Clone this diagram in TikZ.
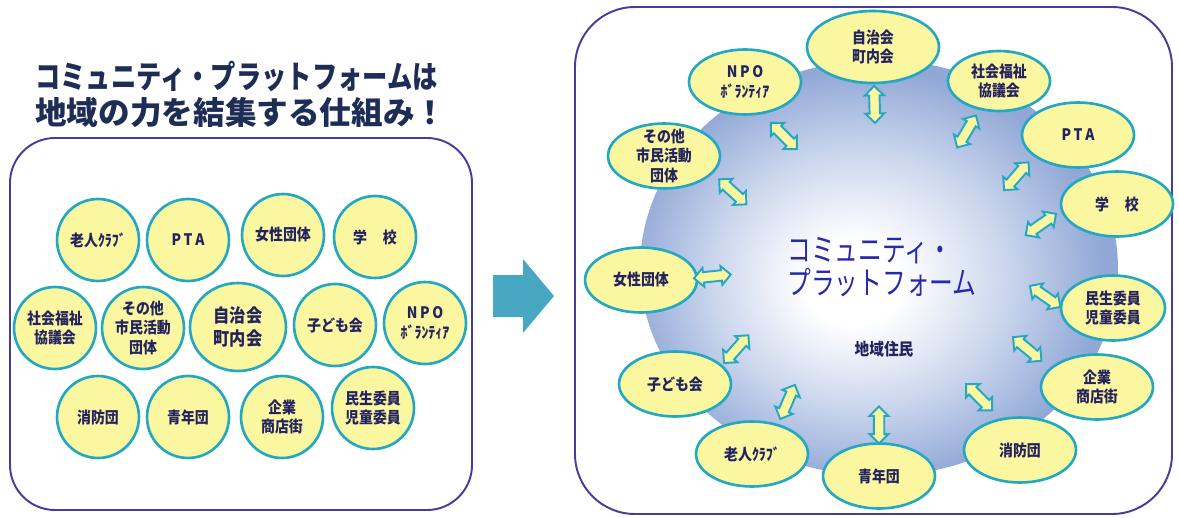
\documentclass[tikz,border=0pt]{standalone}
\usepackage{fontspec}
\usepackage{graphicx}
\setmainfont{Noto Sans CJK JP}
\newfontfamily\narrowjp[FakeStretch=0.88]{Noto Sans CJK JP}
\newfontfamily\slimjp[FakeStretch=0.75]{Noto Sans CJK JP}
\usetikzlibrary{shapes.geometric,shapes.arrows}

\definecolor{panelline}{RGB}{70,60,155}
\definecolor{orgfill}{RGB}{251,246,160}
\definecolor{orgline}{RGB}{35,168,196}
\definecolor{orgtext}{RGB}{35,35,95}
\definecolor{titletext}{RGB}{30,45,85}
\definecolor{arrowblue}{RGB}{72,168,196}
\definecolor{hubtext}{RGB}{40,40,170}
\definecolor{hubblue}{RGB}{145,168,214}
\definecolor{hubmid}{RGB}{205,216,238}

\pgfdeclareradialshading{hubshade}{\pgfpoint{-3bp}{-2bp}}{color(0bp)=(white); color(5bp)=(white); color(15bp)=(hubmid); color(25bp)=(hubblue); color(50bp)=(hubblue)}

\begin{document}
\begin{tikzpicture}[x=0.02cm, y=-0.02cm,
 panel/.style={draw=panelline, line width=1.1pt, rounded corners=#1},
 title/.style={font=\bfseries\fontsize{18}{20}\selectfont, text=titletext, inner sep=0pt, anchor=west},
 org/.style={ellipse, draw=orgline, line width=1.5pt, fill=orgfill, text=orgtext,
   inner xsep=0pt, inner ysep=-6pt, align=center, font=\narrowjp\bfseries\fontsize{9}{11}\selectfont},
 grp/.style={org, minimum size=1.64cm},
 member/.style={org, minimum width=2.24cm, minimum height=1.3cm},
 dblarrow/.style={double arrow, draw=orgline, line width=1.1pt, fill=orgfill,
   inner xsep=0pt, inner ysep=0.085cm, minimum height=0.74cm, double arrow head extend=0.085cm}
]
\useasboundingbox (0,0) rectangle (1179,517);

% title
\node[title] (title1) at (35,76) {\scalebox{0.8}[1]{コミュニティ・プラットフォームは}};
\node[title] (title2) at (35,113) {地域の力を結集する仕組み！};

% left panel: the groups apart
\draw[panel=0.9cm] (10,138) rectangle (472,510);
\node[grp] (l-roujin) at (98,240) {老人ｸﾗﾌﾞ};
\node[grp] (l-pta) at (188,240) {P\,T\,A};
\node[grp] (l-josei) at (283,235) {女性団体};
\node[grp] (l-gakkou) at (375,237) {学\quad 校};
\node[grp] (l-shakyo) at (55,328) {社会福祉\\協議会};
\node[grp] (l-sonota) at (143,328) {その他\\市民活動\\団体};
\node[org, minimum width=1.92cm, minimum height=1.76cm,
  font=\narrowjp\bfseries\fontsize{10.5}{13}\selectfont] (l-jichi) at (238,327) {自治会\\町内会};
\node[grp] (l-kodomo) at (335,325) {子ども会};
\node[grp] (l-npo) at (425,323) {N\,P\,O\\ﾎﾞﾗﾝﾃｨｱ};
\node[grp] (l-shoubou) at (98,417) {消防団};
\node[grp] (l-seinen) at (188,417) {青年団};
\node[grp] (l-kigyou) at (282,417) {企業\\商店街};
\node[grp] (l-minsei) at (373,408) {民生委員\\児童委員};

% big arrow
\fill[arrowblue] (493,275) -- (523,275) -- (523,259) -- (554,296) -- (523,333)
  -- (523,317) -- (493,317) -- cycle;

% right panel: the platform
\draw[panel=1.2cm] (575,7) rectangle (1172,514);
\node[ellipse, shade, shading=hubshade, inner sep=0pt,
  minimum width=9.56cm, minimum height=8.32cm] (hub) at (879,268) {};
\node[font=\slimjp\fontsize{18}{18.7}\selectfont, text=hubtext, align=left] (hubname) at (882,267)
  {コミュニティ・\\プラットフォーム};
\node[font=\narrowjp\bfseries\fontsize{9.5}{11}\selectfont, text=orgtext] (residents) at (884,349) {地域住民};

\node[member, minimum width=2.64cm, minimum height=1.44cm] (jichi) at (873,47) {自治会\\町内会};
\node[member] (npo) at (745,82) {N\,P\,O\\ﾎﾞﾗﾝﾃｨｱ};
\node[member, minimum width=2.04cm, minimum height=1.2cm] (shakyo) at (999,81) {社会福祉\\協議会};
\node[member] (sonota) at (664,156) {その他\\市民活動\\団体};
\node[member] (pta) at (1078,135) {P\,T\,A};
\node[member] (gakkou) at (1117,204) {学\quad 校};
\node[member] (josei) at (641,280) {女性団体};
\node[member, minimum width=2.08cm] (minsei) at (1113,308) {民生委員\\児童委員};
\node[member] (kodomo) at (675,384) {子ども会};
\node[member] (kigyou) at (1097,387) {企業\\商店街};
\node[member] (roujin) at (752,454) {老人ｸﾗﾌﾞ};
\node[member] (seinen) at (879,476) {青年団};
\node[member] (shoubou) at (1020,450) {消防団};

% links to the hub (pos along the line, extra turn)
\foreach \n/\p/\r in {jichi/.26/0, npo/.29/9, shakyo/.27/2, sonota/.32/-15, pta/.31/15,
  gakkou/.32/20, josei/.30/3, minsei/.29/-25, kodomo/.30/19, kigyou/.32/-11,
  roujin/.28/11, seinen/.245/0, shoubou/.29/7}
  \path (\n.center) -- (hub.center) node[dblarrow, sloped, rotate=\r, pos=\p] (a-\n) {};

\end{tikzpicture}
\end{document}
